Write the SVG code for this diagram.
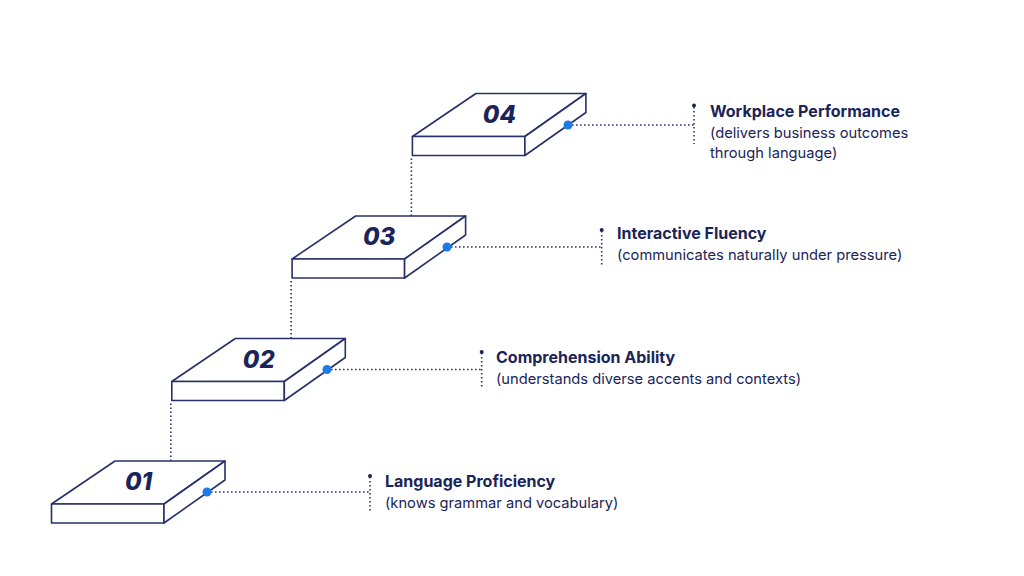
<svg xmlns="http://www.w3.org/2000/svg" width="1024" height="576" viewBox="0 0 1024 576">
<style>
.face{fill:#ffffff;stroke:#27306a;stroke-width:1.6;stroke-linejoin:round}
.num{font-family:Inter,"Liberation Sans",sans-serif;font-weight:800;font-style:italic;font-size:24px;fill:#1b2458;text-anchor:middle}
.title{font-family:Inter,"Liberation Sans",sans-serif;font-weight:700;font-size:16px;fill:#1b2458}
.sub{font-family:Inter,"Liberation Sans",sans-serif;font-weight:400;font-size:14.7px;fill:#1b2458}
.dot-line{fill:none;stroke:#2a3470;stroke-width:1.6;stroke-dasharray:1.6 2.4}
.pin{fill:#1e7ae6}
.cap{fill:#1b2458}
</style>
<rect width="1024" height="576" fill="#ffffff"/>
<g id="connectors">
<line class="dot-line" x1="170.8" y1="461" x2="170.8" y2="401"/>
<line class="dot-line" x1="291.1" y1="338.5" x2="291.1" y2="278.5"/>
<line class="dot-line" x1="411.4" y1="216" x2="411.4" y2="156"/>
<line class="dot-line" x1="207" y1="492" x2="370" y2="492"/>
<line class="dot-line" x1="370" y1="477" x2="370" y2="513"/>
<line class="dot-line" x1="327" y1="369.5" x2="481.7" y2="369.5"/>
<line class="dot-line" x1="481.7" y1="353" x2="481.7" y2="389"/>
<line class="dot-line" x1="447" y1="247" x2="601.7" y2="247"/>
<line class="dot-line" x1="601.7" y1="231" x2="601.7" y2="266"/>
<line class="dot-line" x1="568" y1="125" x2="694" y2="125"/>
<line class="dot-line" x1="694" y1="107" x2="694" y2="144"/>
<circle class="cap" cx="370" cy="476" r="2"/>
<circle class="cap" cx="481.7" cy="352" r="2"/>
<circle class="cap" cx="601.7" cy="230" r="2"/>
<circle class="cap" cx="694" cy="105.5" r="2"/>
</g>
<defs>
<g id="block">
<polygon class="face" points="51.5,504 115,461 225,461 164,504"/>
<rect class="face" x="51.5" y="504" width="112.5" height="19"/>
<polygon class="face" points="164,504 225,461 225,480 164,523"/>
</g>
</defs>
<g id="node-01">
<use href="#block"/>
<circle class="pin" cx="207" cy="492" r="4.5"/>
<text class="num" x="138.5" y="490">01</text>
</g>
<g id="node-02">
<use href="#block" transform="translate(120.3,-122.5)"/>
<circle class="pin" cx="327" cy="369.5" r="4.5"/>
<text class="num" x="258.8" y="367.5">02</text>
</g>
<g id="node-03">
<use href="#block" transform="translate(240.6,-245)"/>
<circle class="pin" cx="447" cy="247" r="4.5"/>
<text class="num" x="379.1" y="245">03</text>
</g>
<g id="node-04">
<use href="#block" transform="translate(360.9,-367.5)"/>
<circle class="pin" cx="568" cy="125" r="4.5"/>
<text class="num" x="499.4" y="122.5">04</text>
</g>
<g id="label-01">
<text class="title" x="385" y="487">Language Proficiency</text>
<text class="sub" x="385" y="508">(knows grammar and vocabulary)</text>
</g>
<g id="label-02">
<text class="title" x="496" y="362.5">Comprehension Ability</text>
<text class="sub" x="496" y="383.5">(understands diverse accents and contexts)</text>
</g>
<g id="label-03">
<text class="title" x="617" y="239">Interactive Fluency</text>
<text class="sub" x="617" y="260">(communicates naturally under pressure)</text>
</g>
<g id="label-04">
<text class="title" x="710" y="116.5">Workplace Performance</text>
<text class="sub" x="710" y="137.5">(delivers business outcomes</text>
<text class="sub" x="710" y="157.5">through language)</text>
</g>
</svg>
